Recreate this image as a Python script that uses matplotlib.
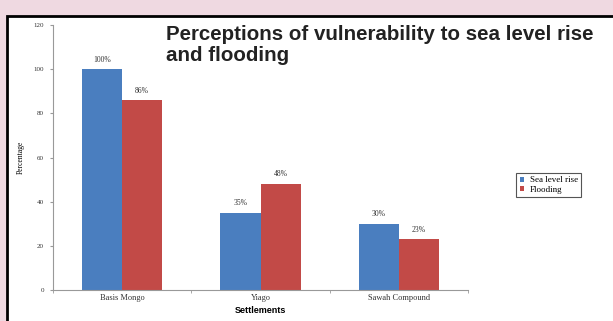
import matplotlib.pyplot as plt
import numpy as np
from matplotlib.patches import Rectangle

# data
settlements = ['Basis Mongo', 'Yiago', 'Sawah Compound']
sea_level_rise = [100, 35, 30]
flooding = [86, 48, 23]
y_ticks = [0, 20, 40, 60, 80, 100, 120]

blue = '#4A7EBF'
red = '#C24A47'

fig = plt.figure(figsize=(6.13, 3.21), dpi=100)
fig.patch.set_facecolor('#EFD9E1')

# white panel with black frame (top/left), like the source screenshot
fig.patches.append(Rectangle((0.011, -0.05), 1.2, 1.0, transform=fig.transFigure,
                             facecolor='white', edgecolor='black', linewidth=2, zorder=-1))

ax = fig.add_axes([0.0865, 0.0966, 0.677, 0.8254])
ax.set_zorder(2)
ax.set_facecolor('white')

x = np.arange(len(settlements))
w = 0.29
b1 = ax.bar(x - w / 2, sea_level_rise, w, color=blue, label='Sea level rise')
b2 = ax.bar(x + w / 2, flooding, w, color=red, label='Flooding')

# value labels
for bars, vals in [(b1, sea_level_rise), (b2, flooding)]:
    for r, v in zip(bars, vals):
        ax.text(r.get_x() + r.get_width() / 2, v + 2.5, f'{v}%', ha='center', va='bottom',
                fontsize=5.5, family='Liberation Serif', color='#333333')

ax.set_xlim(-0.5, 2.5)
ax.set_ylim(0, 120)
ax.set_yticks(y_ticks)
ax.tick_params(axis='y', labelsize=5, length=2.5, color='#999999', pad=4, labelcolor='#333333')
for lab in ax.get_yticklabels():
    lab.set_family('Liberation Serif')

ax.set_xticks(x)
ax.set_xticklabels(settlements, fontsize=6, family='Liberation Serif', color='#333333')
ax.tick_params(axis='x', length=0, pad=3)
ax.set_xticks([-0.5, 0.5, 1.5, 2.5], minor=True)
ax.tick_params(axis='x', which='minor', length=2.5, color='#999999')

for s in ['top', 'right']:
    ax.spines[s].set_visible(False)
for s in ['left', 'bottom']:
    ax.spines[s].set_color('#999999')
    ax.spines[s].set_linewidth(0.8)

ax.set_xlabel('Settlements', fontsize=6.5, fontweight='bold', family='Liberation Sans', labelpad=3)
ax.set_ylabel('Percentage', fontsize=5.5, family='Liberation Serif', labelpad=6)

fig.text(0.27, 0.922, 'Perceptions of vulnerability to sea level rise\nand flooding',
         fontsize=14.8, fontweight='bold', family='Liberation Sans', color='#222222',
         va='top', ha='left', linespacing=1.1, zorder=3)

leg = fig.legend(loc='upper left', bbox_to_anchor=(0.842, 0.462), borderaxespad=0,
                 prop={'family': 'Liberation Serif', 'size': 6.5},
                 handlelength=0.5, handleheight=0.5, handletextpad=0.6,
                 borderpad=0.4, labelspacing=0.15, fancybox=False, framealpha=1)
leg.get_frame().set_edgecolor('#555555')
leg.get_frame().set_linewidth(0.8)
leg.set_zorder(3)

plt.savefig('out.png', dpi=100, facecolor=fig.get_facecolor())
